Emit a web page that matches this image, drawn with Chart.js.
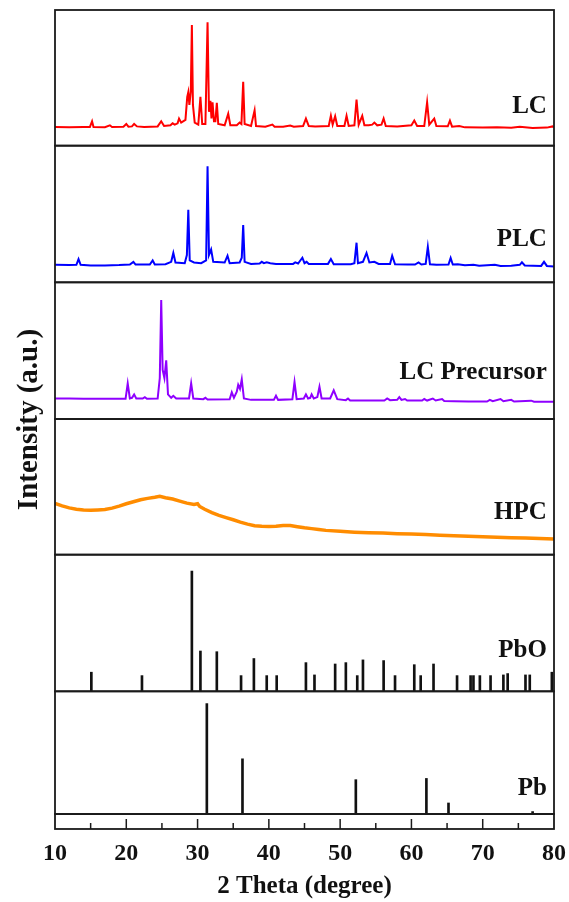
<!DOCTYPE html>
<html>
<head>
<meta charset="utf-8">
<script src="https://cdn.jsdelivr.net/npm/chart.js@4"></script>
<style>
  html, body { margin: 0; padding: 0; background: #fff; }
</style>
</head>
<body>
<canvas id="xrdChart" width="569" height="902"></canvas>
<script>
// sample names, top panel first
const sampleNames = ['LC', 'PLC', 'LC Precursor', 'HPC', 'PbO', 'Pb'];

// measured patterns: [2theta, intensity in % of the panel height]
const lcPattern = [
  [10,13.8],[12,13.5],[14,13.8],[14.9,13.8],[15.2,18],[15.4,13.8],[17,13.6],[17.7,15],[18,13.8],[19.6,14],[20.0,16],[20.3,14],
  [20.8,14.2],[21.1,16],[21.5,14.2],[22.5,13.8],[24.4,14.2],[24.9,18],[25.3,14.5],[26.2,15],[26.5,16.5],[26.8,15.5],[27.2,16.5],
  [27.4,20],[27.7,17],[28.3,19],[28.55,36],[28.7,39.5],[28.85,30],[29.05,40],[29.2,89],[29.35,30],[29.6,17],[30.1,15.5],[30.4,36],
  [30.65,16],[31.1,16],[31.4,91],[31.6,25],[31.8,33],[31.95,20],[32.1,32],[32.3,18],[32.5,18],[32.7,31.6],[32.9,16],[33.8,15],
  [34.3,23.5],[34.6,15],[35.5,15],[35.9,17],[36.15,16],[36.4,47],[36.6,16],[37.5,14.5],[38.0,26],[38.2,14.5],[39.5,14],[40.5,15.5],
  [40.8,14],[42,14],[43,14.8],[43.5,14],[44.8,14.5],[45.2,20],[45.6,14.5],[46.5,14.2],[48.4,14.5],[48.7,22],[48.95,15.5],[49.3,21.7],
  [49.6,14.5],[50.6,14.5],[50.9,22],[51.2,14.5],[52,15],[52.3,34],[52.6,15.5],[53.1,22],[53.4,15],[54,15],[54.5,15.5],[54.8,17],
  [55.2,15],[55.8,15.5],[56.1,20],[56.4,14.5],[58,14.2],[60.0,15],[60.4,18.5],[60.8,14.5],[61.8,14.5],[62.2,32],[62.5,15.5],[63.2,20],
  [63.5,14.5],[65.1,14.3],[65.4,18.5],[65.7,14],[66.7,14.5],[67.5,13.5],[70,13.3],[72,13.5],[74,13.2],[75.2,14],[77,13],[79,13.3],
  [79.8,14.2],[80,13.6]
];

const plcPattern = [
  [10,12.8],[12,12.6],[13.0,12.8],[13.3,17],[13.6,12.8],[15,12.4],[17,12.4],[19,12.6],[20.5,13],[21.0,15],[21.3,13],[23.3,13],
  [23.7,16],[24,13],[25.5,13.2],[26.3,15],[26.6,21.5],[26.9,14.5],[28.2,14],[28.5,20],[28.7,53],[28.9,16],[29.5,14.5],[30.5,14],
  [31.2,16],[31.4,85],[31.6,20],[31.9,24],[32.2,15],[33.8,14.5],[34.2,19.5],[34.5,14],[35.9,14.5],[36.2,18],[36.4,42],[36.6,15],
  [37.5,13.5],[38.7,13.8],[39.0,15],[39.3,14],[39.7,14.6],[40.2,14],[41,13.5],[43.4,13.5],[43.7,14.6],[44.1,13.8],[44.7,18],[45.0,14],
  [45.3,15],[45.6,13.5],[48.3,13.5],[48.7,17],[49.1,13.2],[51.5,13.2],[52.0,14],[52.3,29],[52.5,14],[53.2,15],[53.7,21.5],[54.1,14.5],
  [54.8,15],[55.4,13.5],[57.0,13.5],[57.3,19.5],[57.7,13.2],[59.5,13],[60.5,13],[61.0,14.6],[61.4,13],[62.0,13.5],[62.3,26],[62.6,13.2],
  [63.5,12.8],[65.2,13],[65.5,17.8],[65.8,13],[66.5,13.2],[67.5,12.5],[68.7,12.9],[69.5,12.2],[71.7,12.8],[72.5,12],[74,12.2],[75.2,12.8],
  [75.5,14.6],[75.9,12.3],[78.2,12],[78.6,15],[79,12],[80,11.5]
];

const precursorPattern = [
  [10,15],[12,15],[14,14.8],[16,14.8],[18,14.8],[19.9,14.8],[20.2,26],[20.5,15],[20.8,15.5],[21.1,18],[21.4,15],[22.3,15],[22.6,16],
  [22.9,14.8],[24.4,15],[24.7,30],[24.9,87],[25.1,36],[25.35,30],[25.6,43],[25.85,18],[26.3,15.5],[26.6,17],[27,15],[28.8,15],[29.1,26],
  [29.4,15],[30.8,14.5],[31.1,15.5],[31.4,14.3],[34.5,14.5],[34.8,19.5],[35.1,15.5],[35.5,20],[35.7,25],[35.95,22],[36.2,29],[36.5,15],
  [37.5,14],[40.7,14],[41.0,17],[41.3,14],[43.3,14.5],[43.6,27],[43.9,14.5],[44.9,15],[45.2,18],[45.5,15],[45.8,15.5],[46.0,18],
  [46.3,15],[46.8,16],[47.1,23.6],[47.4,15],[48.6,15],[49.1,21],[49.6,14.5],[50.8,13.8],[51.1,15],[51.4,13.5],[53,13.5],[56.2,13.5],
  [56.6,15],[57,13.8],[58.0,14],[58.3,16],[58.6,14],[59.1,14.6],[59.4,13.5],[61.5,13.5],[61.8,14.6],[62.2,13.5],[63.0,15],[63.4,13.5],
  [64.3,14.6],[64.6,13.2],[66,13],[68,12.8],[70.6,12.8],[71.0,14],[71.4,13],[72.5,14.6],[72.9,13],[74.0,14],[74.4,12.8],[76.8,13.4],
  [77.2,12.6],[80,12.6]
];

const hpcPattern = [
  [10,37.8],[11,36],[12,34.5],[13,33.5],[14,33],[15,32.8],[16,33],[17,33.3],[18,34.3],[19,35.8],[20,37.5],[21,39],[22,40.5],[23,41.5],
  [24,42.3],[24.7,43],[25.5,42],[26.5,41],[27.5,39.5],[28.5,38],[29.5,37],[30.0,37.5],[30.3,35.5],[31,33.5],[32,31],[33,29],[34,27.3],
  [35,25.7],[36,24],[37,22.5],[38,21.3],[39,20.9],[40,20.8],[41,21],[42,21.5],[43,21.5],[44,20.6],[45,19.8],[46,19.2],[47,18.5],
  [48,17.9],[50,17.2],[52,16.6],[54,16.2],[56,15.9],[58,15.5],[60,15.2],[62,14.8],[64,14.4],[66,14],[68,13.6],[70,13.2],[72,12.9],
  [74,12.5],[76,12.2],[78,11.9],[80,11.5]
];

// reference cards (stick patterns)
const pboTheta = [15.1,22.2,29.2,30.4,32.7,36.1,37.9,39.7,41.1,45.2,46.4,49.3,50.8,52.4,53.2,56.1,57.7,60.4,61.3,63.1,
                  66.4,68.3,68.7,69.6,71.1,72.9,73.5,76.0,76.6,79.7];
const pboIntensity = [14,11.5,88,29.5,29,11.5,24,11.5,11.5,21,12,20,21,11.5,23,22.5,11.5,19.5,11.5,20,
                      11.5,11.5,11.5,11.5,11.5,12,13,12,12,14];
const pbTheta = [31.3,36.3,52.2,62.1,65.2,77.0];
const pbIntensity = [90,45,28,29,9,2];

const xTickLabels = [10, 20, 30, 40, 50, 60, 70, 80];

// layout of the stacked panels (top to bottom), last one is the tick strip
const panelHeights = [136, 137, 137, 136, 137, 123, 15];
const panelBottoms = [];
let yTotal = 0;
for (let i = panelHeights.length - 1; i >= 0; i--) {
  panelBottoms[i] = yTotal;
  yTotal += panelHeights[i];
}
function toPanel(i, pct) {
  return panelBottoms[i] + pct / 100 * panelHeights[i];
}

const labelTheta = 79;
const labelLevels = [28.7, 31, 34, 31, 30, 21];
const serif = '"Liberation Serif", "Times New Roman", serif';

function patternSet(label, pts, i, color, width) {
  return {
    type: 'line',
    label: label,
    data: pts.map(p => ({x: p[0], y: toPanel(i, p[1])})),
    borderColor: color,
    borderWidth: width,
    pointRadius: 0,
    tension: 0,
    fill: false
  };
}

function stickSet(label, pos, hts, i) {
  return {
    type: 'bar',
    label: label,
    data: pos.map((t, k) => ({x: t, y: [toPanel(i, 0), toPanel(i, hts[k])]})),
    backgroundColor: '#111',
    borderWidth: 0,
    barThickness: 2,
    grouped: false
  };
}

const panelFrames = {
  id: 'panelFrames',
  afterDatasetsDraw(chart) {
    const ctx = chart.ctx;
    const {left, right} = chart.chartArea;
    const x = chart.scales.x, y = chart.scales.y;
    ctx.save();
    ctx.strokeStyle = '#1a1a1a';
    ctx.lineWidth = 1.8;
    panelHeights.forEach((h, i) => {
      const top = y.getPixelForValue(panelBottoms[i] + h);
      const bot = y.getPixelForValue(panelBottoms[i]);
      ctx.strokeRect(left, top, right - left, bot - top);
    });
    // inward ticks in the bottom strip
    const yb = y.getPixelForValue(0);
    ctx.lineWidth = 1.5;
    for (let t = 15; t < 80; t += 5) {
      const px = x.getPixelForValue(t);
      const len = t % 10 === 0 ? 10 : 6;
      ctx.beginPath();
      ctx.moveTo(px, yb);
      ctx.lineTo(px, yb - len);
      ctx.stroke();
    }
    // sample labels
    ctx.font = 'bold 25px ' + serif;
    ctx.fillStyle = '#111';
    ctx.textAlign = 'right';
    ctx.textBaseline = 'middle';
    sampleNames.forEach((name, i) => {
      ctx.fillText(name, x.getPixelForValue(labelTheta), y.getPixelForValue(toPanel(i, labelLevels[i])));
    });
    ctx.restore();
  }
};

new Chart(document.getElementById('xrdChart').getContext('2d'), {
  type: 'line',
  data: {
    datasets: [
      patternSet('LC', lcPattern, 0, '#ff0000', 2),
      patternSet('PLC', plcPattern, 1, '#0000ff', 2),
      patternSet('LC Precursor', precursorPattern, 2, '#8f00ff', 2),
      patternSet('HPC', hpcPattern, 3, '#ff8c00', 3.5),
      stickSet('PbO', pboTheta, pboIntensity, 4),
      stickSet('Pb', pbTheta, pbIntensity, 5)
    ]
  },
  options: {
    responsive: false,
    animation: false,
    layout: { padding: { left: 11, right: 15, top: 10, bottom: 1 } },
    plugins: { legend: { display: false }, tooltip: { enabled: false } },
    scales: {
      x: {
        type: 'linear',
        min: 10,
        max: 80,
        offset: false,
        grid: { display: false, drawTicks: false },
        border: { display: false },
        afterBuildTicks: axis => { axis.ticks = xTickLabels.map(v => ({value: v})); },
        ticks: {
          color: '#111',
          padding: 2,
          maxRotation: 0,
          font: { family: serif, size: 24, weight: 'bold', lineHeight: 1.917 }
        },
        title: {
          display: true,
          text: '2 Theta (degree)',
          color: '#111',
          padding: { top: 0, bottom: 7 },
          font: { family: serif, size: 25, weight: 'bold', lineHeight: 0.6 }
        }
      },
      y: {
        type: 'linear',
        min: 0,
        max: yTotal,
        grid: { display: false, drawTicks: false },
        border: { display: false },
        ticks: { display: false },
        title: {
          display: true,
          text: 'Intensity (a.u.)',
          color: '#111',
          padding: { top: 4.5, bottom: 10.5 },
          font: { family: serif, size: 29, weight: 'bold', lineHeight: 1 }
        }
      }
    }
  },
  plugins: [panelFrames]
});
</script>
</body>
</html>
